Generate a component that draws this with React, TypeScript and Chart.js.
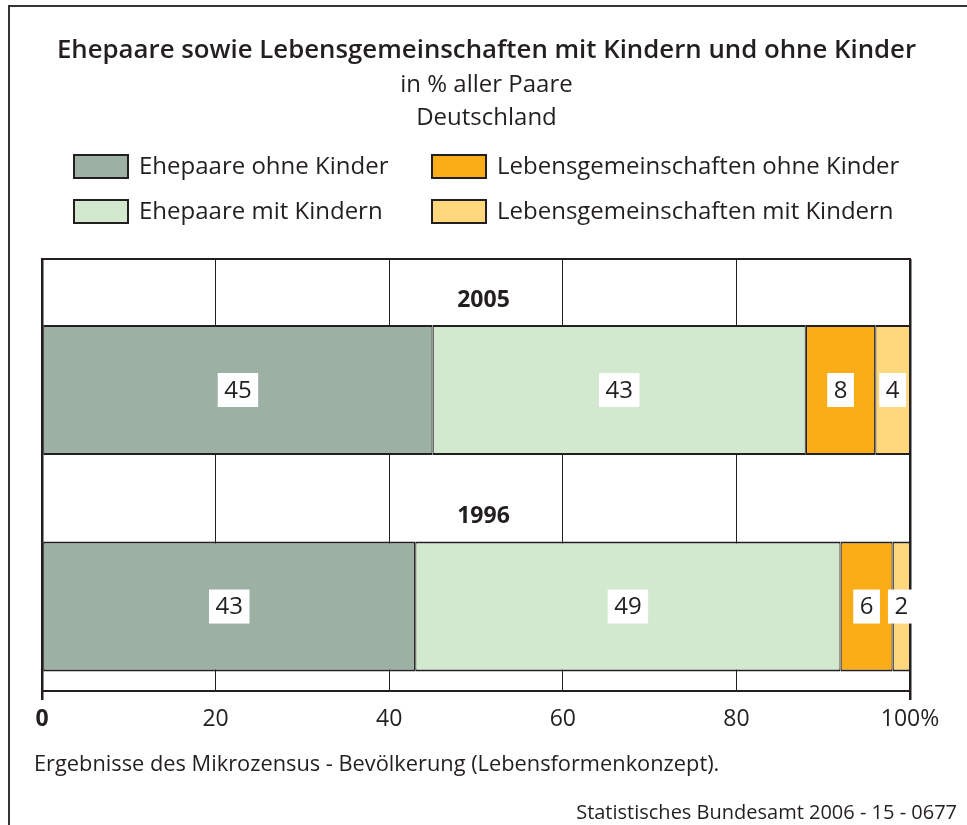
import React, { useEffect, useRef } from "react";
import { Chart, registerables } from "chart.js";

Chart.register(...registerables);

const FONT = "'Open Sans', sans-serif";
const TEXT = "#231f20";
const LINE = "#231f20";

const chartTitle = "Ehepaare sowie Lebensgemeinschaften mit Kindern und ohne Kinder";
const chartSubtitle = ["in % aller Paare", "Deutschland"];
const footnote = "Ergebnisse des Mikrozensus - Bevölkerung (Lebensformenkonzept).";
const sourceNote = "Statistisches Bundesamt 2006 - 15 - 0677";

const years = ["2005", "1996"];
const seriesLabels = [
  "Ehepaare ohne Kinder",
  "Ehepaare mit Kindern",
  "Lebensgemeinschaften ohne Kinder",
  "Lebensgemeinschaften mit Kindern",
];
const ehepaareOhneKinder = [45, 43];
const ehepaareMitKindern = [43, 49];
const lebensgemeinschaftenOhneKinder = [8, 6];
const lebensgemeinschaftenMitKindern = [4, 2];
const seriesValues = [
  ehepaareOhneKinder,
  ehepaareMitKindern,
  lebensgemeinschaftenOhneKinder,
  lebensgemeinschaftenMitKindern,
];
const seriesColors = ["#9cb1a4", "#d2e8cf", "#fbad18", "#ffd87e"];
const xTickValues = [0, 20, 40, 60, 80, 100];
const xTickLabels = ["0", "20", "40", "60", "80", "100%"];

const Y_MIN = -0.605;
const Y_MAX = 1.39;

const framePlugin = {
  id: "frame",
  beforeDraw(chart: any) {
    const ctx = chart.ctx;
    ctx.save();
    ctx.strokeStyle = "#333";
    ctx.lineWidth = 2;
    ctx.beginPath();
    ctx.moveTo(9, chart.height);
    ctx.lineTo(9, 6);
    ctx.lineTo(chart.width, 6);
    ctx.stroke();
    ctx.restore();
  },
};

const topLinePlugin = {
  id: "topLine",
  beforeDatasetsDraw(chart: any) {
    const { ctx, chartArea } = chart;
    ctx.save();
    ctx.strokeStyle = LINE;
    ctx.lineWidth = 2;
    ctx.beginPath();
    ctx.moveTo(chartArea.left - 1, chartArea.top);
    ctx.lineTo(chartArea.right + 1, chartArea.top);
    ctx.stroke();
    ctx.restore();
  },
};

const labelsPlugin = {
  id: "labels",
  afterDatasetsDraw(chart: any) {
    const ctx = chart.ctx;
    ctx.save();
    ctx.textAlign = "center";
    ctx.textBaseline = "middle";
    chart.data.datasets.forEach((_: any, di: number) => {
      const meta = chart.getDatasetMeta(di);
      meta.data.forEach((el: any, i: number) => {
        const text = String(seriesValues[di][i]);
        const p = el.getCenterPoint();
        ctx.font = `24px ${FONT}`;
        const w = ctx.measureText(text).width + 13;
        const h = 34;
        ctx.fillStyle = "#ffffff";
        ctx.fillRect(p.x - w / 2, p.y - h / 2, w, h);
        ctx.fillStyle = TEXT;
        ctx.fillText(text, p.x, p.y + 1);
      });
    });
    const yScale = chart.scales.y;
    ctx.font = `bold 23px ${FONT}`;
    ctx.fillStyle = TEXT;
    years.forEach((yr, i) => {
      ctx.fillText(yr, chart.width / 2, yScale.getPixelForValue(i - 0.415));
    });
    ctx.restore();
  },
};

const textPlugin = {
  id: "texts",
  afterDraw(chart: any) {
    const ctx = chart.ctx;
    ctx.save();
    ctx.fillStyle = TEXT;
    ctx.textBaseline = "middle";
    ctx.textAlign = "center";
    const cx = 486.5;
    ctx.font = `600 25.8px ${FONT}`;
    ctx.fillText(chartTitle, cx, 51);
    ctx.font = `24px ${FONT}`;
    chartSubtitle.forEach((line, i) => ctx.fillText(line, cx, 85 + i * 33));

    const colX = [74, 432];
    const rowY = [155, 200];
    const boxW = 54;
    const boxH = 23;
    ctx.textAlign = "left";
    seriesLabels.forEach((label, i) => {
      const col = Math.floor(i / 2);
      const row = i % 2;
      const x = colX[col];
      const y = rowY[row];
      ctx.fillStyle = seriesColors[i];
      ctx.fillRect(x, y, boxW, boxH);
      ctx.strokeStyle = LINE;
      ctx.lineWidth = 2;
      ctx.strokeRect(x, y, boxW, boxH);
      ctx.fillStyle = TEXT;
      ctx.fillText(label, x + boxW + 11, y + boxH / 2 + 1);
    });
    ctx.font = `21.8px ${FONT}`;
    ctx.fillText(footnote, 34, 765);
    ctx.font = `20px ${FONT}`;
    ctx.textAlign = "right";
    ctx.fillText(sourceNote, 957, 813);
    ctx.restore();
  },
};

export default function App() {
  const ref = useRef<HTMLCanvasElement | null>(null);

  useEffect(() => {
    if (!ref.current) return;
    const chart = new Chart(ref.current, {
      type: "bar",
      data: {
        datasets: seriesLabels.map((label, di) => ({
          label,
          data: years.map((_, i) => ({ x: seriesValues[di][i], y: i })),
          backgroundColor: seriesColors[di],
          borderColor: LINE,
          borderWidth: { top: 2, bottom: 2, left: 1.2, right: 1.2 },
          borderSkipped: false,
          barPercentage: 0.6,
          categoryPercentage: 1,
        })),
      } as any,
      options: {
        indexAxis: "y",
        animation: false,
        responsive: false,
        layout: { padding: { left: 42, right: 57, top: 259, bottom: 0 } },
        plugins: {
          legend: { display: false },
          tooltip: { enabled: false },
          title: { display: false },
        },
        scales: {
          x: {
            type: "linear",
            min: 0,
            max: 100,
            stacked: true,
            afterBuildTicks: (s: any) => {
              s.ticks = xTickValues.map((v) => ({ value: v }));
            },
            afterFit: (s: any) => {
              s.height = 134;
            },
            ticks: {
              autoSkip: false,
              maxRotation: 0,
              padding: 6,
              color: TEXT,
              callback: (v: any) => {
                const k = xTickValues.indexOf(Number(v));
                return k >= 0 ? xTickLabels[k] : "";
              },
              font: (c: any) => ({
                family: FONT,
                size: 23,
                weight: c.tick && c.tick.value === 0 ? "bold" : "normal",
              }),
            },
            grid: {
              color: LINE,
              lineWidth: (c: any) =>
                c.tick && (c.tick.value === 0 || c.tick.value === 100) ? 2.5 : 1,
              tickLength: 9,
              tickColor: (c: any) =>
                c.tick && (c.tick.value === 0 || c.tick.value === 100) ? LINE : "rgba(0,0,0,0)",
            },
            border: { display: true, color: LINE, width: 2 },
          },
          y: {
            type: "linear",
            reverse: true,
            bounds: "data",
            min: Y_MIN,
            max: Y_MAX,
            stacked: true,
            display: false,
            offset: false,
            afterDataLimits: (s: any) => {
              s.min = Y_MIN;
              s.max = Y_MAX;
            },
            afterBuildTicks: (s: any) => {
              s.min = Y_MIN;
              s.max = Y_MAX;
              s.ticks = years.map((_, i) => ({ value: i }));
            },
          },
        },
      } as any,
      plugins: [framePlugin, topLinePlugin, labelsPlugin, textPlugin],
    });
    return () => chart.destroy();
  }, []);

  return (
    <div style={{ position: "absolute", left: 0, top: 0, width: 967, height: 825, background: "#fff" }}>
      <canvas ref={ref} width={967} height={825} style={{ display: "block" }} />
    </div>
  );
}
